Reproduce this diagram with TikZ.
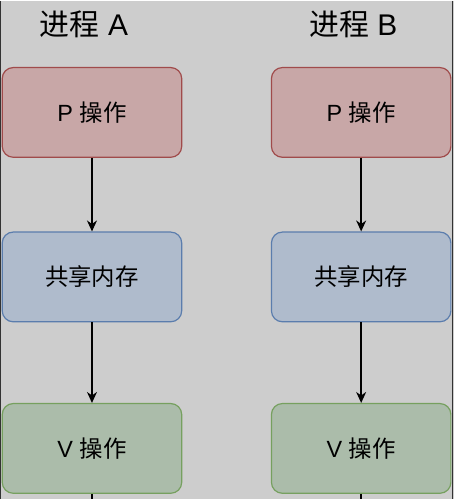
\documentclass[tikz,border=0pt]{standalone}
\usepackage{fontspec}
\setmainfont{Liberation Sans}
\newfontfamily\cjk{Noto Sans CJK SC}
\usetikzlibrary{arrows.meta}

\definecolor{bgGray}{HTML}{CDCDCD}
\definecolor{edgeGray}{HTML}{333333}
\definecolor{pFill}{HTML}{C8A7A7}
\definecolor{pLine}{HTML}{A04B4B}
\definecolor{mFill}{HTML}{AFBBCC}
\definecolor{mLine}{HTML}{5B7DAD}
\definecolor{vFill}{HTML}{ABBCAA}
\definecolor{vLine}{HTML}{76A05F}

\begin{document}
\begin{tikzpicture}[x=1pt,y=-1pt,
  box/.style={rounded corners=11pt, minimum width=180pt, minimum height=90pt,
    line width=1.2pt, font=\fontsize{23.5}{28}\selectfont},
  pbox/.style={box, fill=pFill, draw=pLine},
  mbox/.style={box, fill=mFill, draw=mLine},
  vbox/.style={box, fill=vFill, draw=vLine},
  title/.style={font=\fontsize{30}{34}\selectfont},
  flow/.style={-{Stealth[length=11pt,width=10pt,inset=3.5pt]}, line width=1.4pt}]

  % Background and container edges
  \fill[bgGray] (0,0) rectangle (455,500);
  \draw[edgeGray, line width=1.5pt] (0.5,0) -- (0.5,500);
  \draw[edgeGray, line width=1.5pt] (453.5,0) -- (453.5,500);

  % Titles
  \node[title] (tA) at (84,24) {{\cjk 进程} A};
  \node[title] (tB) at (354,24) {{\cjk 进程} B};

  % Process A
  \node[pbox] (pA) at (92,112) {P {\cjk 操作}};
  \node[mbox] (mA) at (92,277) {\cjk 共享内存};
  \node[vbox] (vA) at (92,449) {V {\cjk 操作}};

  % Process B
  \node[pbox] (pB) at (362,112) {P {\cjk 操作}};
  \node[mbox] (mB) at (362,277) {\cjk 共享内存};
  \node[vbox] (vB) at (362,449) {V {\cjk 操作}};

  % Connectors
  \draw[flow] (pA) -- (mA);
  \draw[flow] (mA) -- (vA);
  \draw[flow] (pB) -- (mB);
  \draw[flow] (mB) -- (vB);

  % Lines leaving at the bottom
  \coordinate (endA) at (92,500);
  \coordinate (endB) at (362,500);
  \draw[line width=1.4pt] (vA) -- (endA);
  \draw[line width=1.4pt] (vB) -- (endB);
\end{tikzpicture}
\end{document}
